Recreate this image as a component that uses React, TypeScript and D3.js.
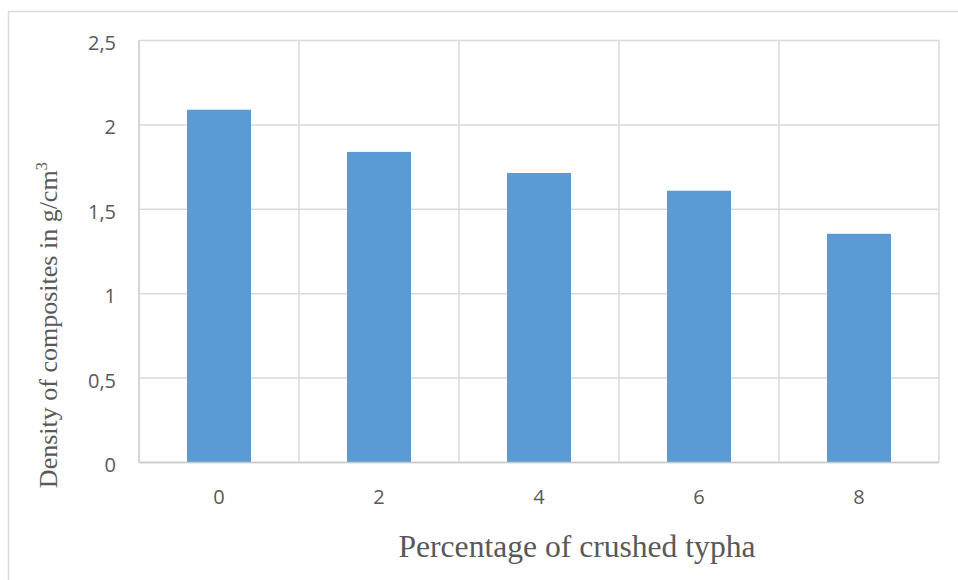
import React from "react";
import * as d3 from "d3";

const categories = ["0", "2", "4", "6", "8"];
const densities = [2.09, 1.84, 1.715, 1.61, 1.355];
const yTicks = [0, 0.5, 1, 1.5, 2, 2.5];
const yTickLabels = ["0", "0,5", "1", "1,5", "2", "2,5"];

const W = 958;
const H = 580;
const margin = { left: 139, right: 19, top: 40.5, bottom: 117.5 };

export default function App() {
  const innerW = W - margin.left - margin.right;
  const innerH = H - margin.top - margin.bottom;
  const x = d3.scaleBand<string>().domain(categories).range([0, innerW]).paddingInner(0).paddingOuter(0);
  const y = d3.scaleLinear().domain([0, 2.5]).range([innerH, 0]);
  const barW = x.bandwidth() * 0.4;
  const text = "#595959";
  const sans = "'Open Sans', sans-serif";
  const serif = "'Liberation Serif', 'Times New Roman', serif";

  return (
    <svg
      width={W}
      height={H}
      style={{ position: "absolute", left: 0, top: 0, background: "#fff" }}
    >
      {/* outer frame */}
      <rect x={8.5} y={11.5} width={W + 20} height={H + 20} fill="none" stroke="#d9d9d9" strokeWidth={1.5} />
      <g transform={`translate(${margin.left},${margin.top})`}>
        {/* horizontal gridlines */}
        {yTicks.map((t) => (
          <line key={"h" + t} x1={0} x2={innerW} y1={y(t)} y2={y(t)} stroke="#d9d9d9" strokeWidth={1.5} />
        ))}
        {/* vertical gridlines */}
        {categories.map((c) => (
          <line key={"v" + c} x1={x(c)!} x2={x(c)!} y1={0} y2={innerH} stroke="#d9d9d9" strokeWidth={1.5} />
        ))}
        <line x1={innerW} x2={innerW} y1={0} y2={innerH} stroke="#d9d9d9" strokeWidth={1.5} />
        {/* bars */}
        {categories.map((c, i) => (
          <rect
            key={"b" + c}
            x={x(c)! + (x.bandwidth() - barW) / 2}
            y={y(densities[i])}
            width={barW}
            height={innerH - y(densities[i])}
            fill="#5b9bd5"
          />
        ))}
        {/* axis lines */}
        <line x1={0} x2={innerW} y1={innerH} y2={innerH} stroke="#c8c8c8" strokeWidth={1.5} />
        <line x1={0} x2={0} y1={0} y2={innerH} stroke="#d0d0d0" strokeWidth={1.5} />
        {/* y tick labels */}
        {yTicks.map((t, i) => (
          <text
            key={"yl" + t}
            x={-23}
            y={y(t) + 9.5}
            textAnchor="end"
            fontFamily={sans}
            fontSize={20}
            fill={text}
          >
            {yTickLabels[i]}
          </text>
        ))}
        {/* x tick labels */}
        {categories.map((c) => (
          <text
            key={"xl" + c}
            x={x(c)! + x.bandwidth() / 2}
            y={innerH + 41.5}
            textAnchor="middle"
            fontFamily={sans}
            fontSize={20}
            fill={text}
          >
            {c}
          </text>
        ))}
      </g>
      {/* axis titles */}
      <text x={577} y={557} textAnchor="middle" fontFamily={serif} fontSize={31.6} fill={text}>
        Percentage of crushed typha
      </text>
      <text
        transform="translate(57,325) rotate(-90)"
        textAnchor="middle"
        fontFamily={serif}
        fontSize={26}
        fill={text}
      >
        Density of composites in g/cm
        <tspan fontSize={17} dy={-10}>3</tspan>
      </text>
    </svg>
  );
}
